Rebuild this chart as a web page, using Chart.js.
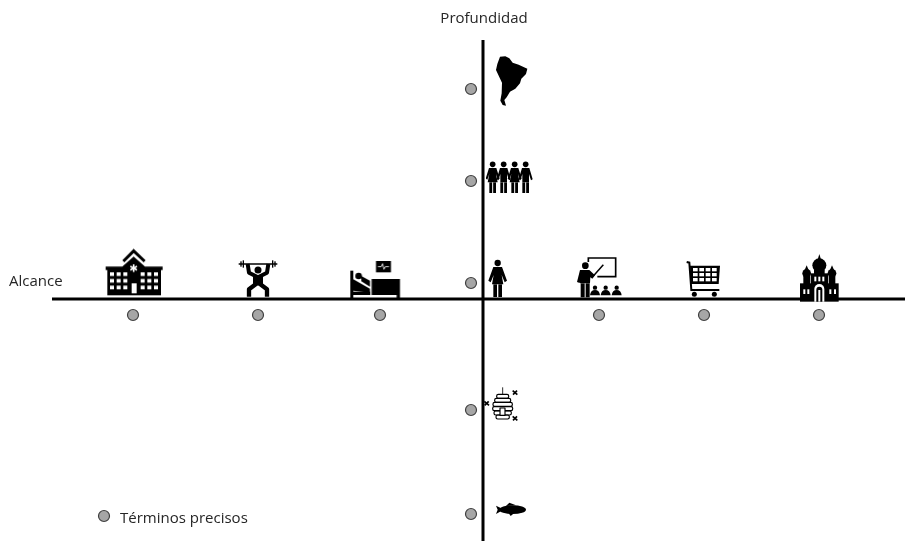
<!DOCTYPE html>
<html>
<head>
<meta charset="utf-8">
<style>
  html, body { margin: 0; padding: 0; background: #fff; }
  canvas { display: block; }
</style>
<script src="https://cdn.jsdelivr.net/npm/chart.js@4"></script>
</head>
<body>
<canvas id="chart" width="905" height="541"></canvas>
<script>
// axes, units are offsets from the crossing point
const alcanceLine = [-431, 422];
const profundidadLine = [259, -242];

// grey dots
const termX = [-350, -225, -103, 116, 221, 336, -12, -12, -12, -12, -12, -379];
const termY = [-16, -16, -16, -16, -16, -16, 210, 118, 16, -111, -215, -217];

// pictograms
const iconNames = ["hospital", "lifter", "bed", "woman", "teacher", "cart", "church", "continent", "group", "hive", "fish"];
const iconX = [-349, -225, -107.7, 15, 116.5, 220, 336.5, 28.5, 26.5, 18, 28];
const iconY = [26.7, 20, 19.5, 20.5, 22, 20.5, 21.5, 218.5, 121.5, -106, -210.5];

// text
const labelTexts = ["Profundidad", "Alcance", "Términos precisos"];
const labelX = [1, -474, -363];
const labelY = [280, 17.5, -219.5];
const labelAlign = ["center", "left", "left"];

// helpers work in 3x pixels, same as the zoomed reference
function makeIcon(x0, y0, x1, y1, draw) {
  const c = document.createElement("canvas");
  c.width = Math.ceil((x1 - x0) / 3);
  c.height = Math.ceil((y1 - y0) / 3);
  const g = c.getContext("2d");
  g.scale(1 / 3, 1 / 3);
  g.translate(-x0, -y0);
  g.fillStyle = "#000";
  g.strokeStyle = "#000";
  draw(g);
  return c;
}
function poly(g, pts) {
  g.beginPath();
  pts.forEach((p, i) => (i ? g.lineTo(p[0], p[1]) : g.moveTo(p[0], p[1])));
  g.closePath();
  g.fill();
}
function line(g, pts, w) {
  g.lineWidth = w;
  g.beginPath();
  pts.forEach((p, i) => (i ? g.lineTo(p[0], p[1]) : g.moveTo(p[0], p[1])));
  g.stroke();
}
function dot(g, x, y, r) {
  g.beginPath();
  g.arc(x, y, r, 0, Math.PI * 2);
  g.fill();
}
function person(g, cx, top, dress) {
  dot(g, cx, top + 9, 8.5);
  if (dress) {
    poly(g, [[cx - 11, top + 20], [cx + 11, top + 20], [cx + 21, top + 52], [cx + 16, top + 55], [cx + 10, top + 38], [cx + 15, top + 63], [cx - 15, top + 63], [cx - 10, top + 38], [cx - 16, top + 55], [cx - 21, top + 52]]);
  } else {
    poly(g, [[cx - 11, top + 20], [cx + 11, top + 20], [cx + 21, top + 54], [cx + 16, top + 57], [cx + 10, top + 38], [cx + 10, top + 63], [cx - 10, top + 63], [cx - 10, top + 38], [cx - 16, top + 57], [cx - 21, top + 54]]);
  }
  g.fillRect(cx - 10, top + 63, 8.5, 32);
  g.fillRect(cx + 1.5, top + 63, 8.5, 32);
}

const iconDraw = {
  hospital: (g) => {
    g.lineJoin = "miter";
    line(g, [[100, 64], [131, 33], [164, 64]], 9);
    poly(g, [[131, 50], [165, 80], [218, 80], [218, 90], [213, 90], [213, 166], [52, 166], [52, 90], [47, 90], [47, 80], [97, 80]]);
    g.fillStyle = "#fff";
    [60, 80, 100, 152, 172, 192].forEach((x) => {
      [97, 117, 137].forEach((y) => g.fillRect(x, y, 12, 11));
    });
    g.fillRect(125, 130, 15, 30);
    g.strokeStyle = "#fff";
    line(g, [[131, 73], [131, 96]], 5);
    line(g, [[121, 79], [141, 90]], 5);
    line(g, [[121, 90], [141, 79]], 5);
  },
  lifter: (g) => {
    line(g, [[446, 72], [562, 72]], 5);
    [[453, 16], [460, 22], [548, 22], [555, 16]].forEach((p) => g.fillRect(p[0] - 2, 72 - p[1] / 2, 4, p[1]));
    dot(g, 504, 90, 10.5);
    g.lineJoin = "round";
    line(g, [[473, 72], [477, 98], [504, 112], [531, 98], [535, 72]], 12);
    g.fillRect(489, 105, 30, 32);
    line(g, [[498, 132], [477, 148], [477, 170]], 13);
    line(g, [[510, 132], [531, 148], [531, 170]], 13);
  },
  bed: (g) => {
    g.fillRect(781, 92, 9, 83);
    g.fillRect(845, 117, 85, 48);
    g.fillRect(920, 165, 10, 10);
    g.fillRect(781, 155, 60, 10);
    dot(g, 806, 108, 10);
    poly(g, [[790, 118], [840, 146], [840, 158], [790, 152]]);
    poly(g, [[814, 108], [840, 122], [840, 140], [814, 124]]);
    g.fillRect(858, 63, 45, 34);
    g.strokeStyle = "#fff";
    line(g, [[864, 80], [874, 80], [878, 71], [882, 88], [886, 80], [897, 80]], 2.5);
  },
  woman: (g) => {
    dot(g, 113, 69, 9.5);
    poly(g, [[100, 81], [126, 81], [141, 122], [134, 127], [125, 105], [130, 133], [96, 133], [101, 105], [92, 127], [85, 122]]);
    g.fillRect(100, 133, 11, 38);
    g.fillRect(115, 133, 11, 38);
  },
  teacher: (g) => {
    line(g, [[385, 66], [385, 54], [467, 54], [467, 110], [412, 110]], 5);
    dot(g, 376, 77, 10);
    poly(g, [[360, 90], [388, 90], [405, 106], [397, 116], [391, 112], [390, 130], [361, 130], [360, 128], [357, 128], [351, 126]]);
    g.fillRect(362, 130, 12, 42);
    g.fillRect(377, 130, 12, 42);
    line(g, [[398, 110], [430, 74]], 4.5);
    [405, 437, 470].forEach((x) => {
      dot(g, x, 143, 6.5);
      g.beginPath();
      g.moveTo(x - 15, 166);
      g.quadraticCurveTo(x - 13, 150, x, 150);
      g.quadraticCurveTo(x + 13, 150, x + 15, 166);
      g.closePath();
      g.fill();
    });
  },
  cart: (g) => {
    line(g, [[680, 66], [688, 68], [694, 150], [778, 150]], 6);
    poly(g, [[690, 77], [780, 77], [776, 132], [693, 132]]);
    g.fillStyle = "#fff";
    [699, 718, 737, 756].forEach((x) => {
      [84, 99, 114].forEach((y) => g.fillRect(x, y, 14, 10));
    });
    g.fillStyle = "#000";
    dot(g, 703, 163, 7.5);
    dot(g, 763, 163, 7.5);
  },
  church: (g) => {
    g.fillRect(1020, 130, 116, 55);
    g.fillRect(1052, 100, 52, 34);
    g.fillRect(1030, 108, 20, 24);
    g.fillRect(1106, 108, 20, 24);
    dot(g, 1078, 76, 21);
    poly(g, [[1078, 42], [1072, 62], [1084, 62]]);
    g.fillRect(1062, 90, 32, 12);
    dot(g, 1040, 100, 13);
    poly(g, [[1040, 76], [1033, 92], [1047, 92]]);
    dot(g, 1116, 100, 13);
    poly(g, [[1116, 76], [1109, 92], [1123, 92]]);
    g.fillStyle = "#fff";
    [1066, 1078, 1090].forEach((x) => g.fillRect(x - 3, 110, 6, 14));
    [1030, 1042, 1108, 1122].forEach((x) => g.fillRect(x, 148, 6, 14));
    g.beginPath();
    g.arc(1078, 147, 15, Math.PI, 0);
    g.lineTo(1093, 185);
    g.lineTo(1063, 185);
    g.closePath();
    g.fill();
    g.fillStyle = "#000";
    g.beginPath();
    g.arc(1078, 149, 9, Math.PI, 0);
    g.lineTo(1087, 185);
    g.lineTo(1069, 185);
    g.closePath();
    g.fill();
    g.fillStyle = "#fff";
    g.fillRect(1075, 150, 6, 35);
  },
  continent: (g) => {
    poly(g, [[120, 50], [136, 49], [148, 55], [158, 68], [176, 74], [202, 86], [198, 102], [184, 116], [180, 130], [166, 146], [150, 155], [140, 172], [133, 180], [138, 197], [128, 195], [121, 182], [125, 160], [126, 128], [115, 105], [108, 90], [112, 72]]);
  },
  group: (g) => {
    person(g, 98, 364, true);
    person(g, 131, 364, false);
    person(g, 164, 364, true);
    person(g, 197, 364, false);
  },
  hive: (g) => {
    line(g, [[128, 22], [128, 42]], 2.5);
    g.lineJoin = "round";
    [[43, 36], [55, 48], [67, 58], [80, 60], [93, 52], [105, 40]].forEach((b) => {
      g.lineWidth = 3.5;
      g.beginPath();
      g.roundRect(128 - b[1] / 2, b[0], b[1], 12, 5);
      g.stroke();
    });
    g.fillStyle = "#fff";
    g.fillRect(120, 84, 15, 22);
    g.lineWidth = 3.5;
    g.strokeRect(120, 84, 15, 22);
    [[165, 38], [80, 70], [165, 115]].forEach((b) => {
      line(g, [[b[0] - 7, b[1] - 6], [b[0] + 7, b[1] + 6]], 5);
      line(g, [[b[0] - 6, b[1] + 6], [b[0] + 6, b[1] - 6]], 5);
    });
  },
  fish: (g) => {
    g.beginPath();
    g.ellipse(158, 389, 40, 13, 0, 0, Math.PI * 2);
    g.fill();
    poly(g, [[108, 377], [124, 385], [130, 389], [124, 393], [108, 402], [113, 389]]);
    poly(g, [[138, 378], [148, 368], [168, 376]]);
    poly(g, [[145, 398], [152, 408], [162, 400]]);
  },
};
const iconBox = {
  hospital: [45, 25, 219, 169],
  lifter: [444, 60, 564, 174],
  bed: [778, 60, 934, 177],
  woman: [84, 57, 144, 174],
  teacher: [348, 48, 489, 174],
  cart: [675, 60, 783, 171],
  church: [1017, 39, 1140, 186],
  continent: [105, 45, 204, 198],
  group: [78, 363, 219, 462],
  hive: [69, 21, 177, 129],
  fish: [105, 366, 201, 411],
};
const iconImages = iconNames.map((n) => {
  const b = iconBox[n];
  return makeIcon(b[0], b[1], b[2], b[3], iconDraw[n]);
});

const toPoints = (xs, ys) => xs.map((x, i) => ({ x: x, y: ys[i] }));

const labelPlugin = {
  id: "labels",
  afterDatasetsDraw(chart) {
    const ctx = chart.ctx;
    const sx = chart.scales.x;
    const sy = chart.scales.y;
    ctx.save();
    ctx.font = '15px "Open Sans"';
    ctx.fillStyle = "#262626";
    ctx.textBaseline = "middle";
    labelTexts.forEach((t, i) => {
      ctx.textAlign = labelAlign[i];
      ctx.fillText(t, sx.getPixelForValue(labelX[i]), sy.getPixelForValue(labelY[i]));
    });
    ctx.restore();
  },
};

new Chart(document.getElementById("chart"), {
  type: "scatter",
  data: {
    datasets: [
      {
        label: "Términos precisos",
        data: toPoints(termX, termY),
        pointRadius: 5.5,
        pointBackgroundColor: "#a6a6a6",
        pointBorderColor: "#404040",
        pointBorderWidth: 1.2,
      },
      {
        label: "Iconos",
        data: toPoints(iconX, iconY),
        pointStyle: iconImages,
        pointRadius: 5,
      },
      {
        label: "Alcance",
        data: toPoints(alcanceLine, [0, 0]),
        showLine: true,
        borderColor: "#000",
        borderWidth: 3,
        pointRadius: 0,
      },
      {
        label: "Profundidad",
        data: toPoints([0, 0], profundidadLine),
        showLine: true,
        borderColor: "#000",
        borderWidth: 3,
        pointRadius: 0,
      },
    ],
  },
  options: {
    responsive: false,
    animation: false,
    layout: { padding: 0, autoPadding: false },
    scales: {
      x: { type: "linear", display: false, min: -483, max: 422 },
      y: { type: "linear", display: false, min: -242, max: 299 },
    },
    plugins: {
      legend: { display: false },
      tooltip: { enabled: false },
      title: { display: false },
    },
  },
  plugins: [labelPlugin],
});
</script>
</body>
</html>
